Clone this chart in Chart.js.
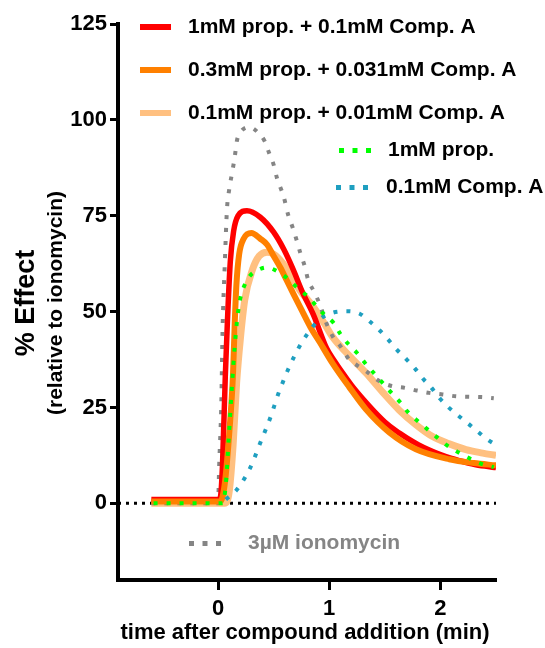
<!DOCTYPE html>
<html>
<head>
<meta charset="utf-8">
<script src="https://cdn.jsdelivr.net/npm/chart.js@4.4.0/dist/chart.umd.min.js"></script>
<style>
  body { margin: 0; background: #fff; }
  #wrap { width: 545px; height: 648px; }
</style>
</head>
<body>
<div id="wrap"><canvas id="c" width="545" height="648"></canvas></div>
<script>
// values (time in min, % effect)
const redT = [-0.6, -0.3, 0.0, 0.02, 0.04, 0.065, 0.085, 0.11, 0.14, 0.18, 0.26, 0.38, 0.5, 0.59, 0.675, 0.76, 0.86, 0.975, 1.05, 1.12, 1.2, 1.3, 1.4, 1.5, 1.6, 1.7, 1.8, 1.9, 2.0, 2.1, 2.2, 2.3, 2.4, 2.5];
const redV = [1, 1, 1, 1.5, 10, 33, 48, 63, 71, 75, 76.3, 74.6, 70.7, 66.3, 61, 55, 49, 40.5, 37, 34, 30.8, 27.3, 24.1, 21.2, 18.9, 17, 15.3, 13.9, 12.7, 11.7, 10.9, 10.2, 9.7, 9.3];

const orangeT = [-0.6, -0.3, 0.02, 0.06, 0.1, 0.135, 0.15, 0.165, 0.19, 0.23, 0.3, 0.38, 0.44, 0.5, 0.56, 0.62, 0.68, 0.75, 0.83, 0.915, 1.03, 1.18, 1.33, 1.54, 1.78, 2.08, 2.3, 2.5];
const orangeV = [0.5, 0.5, 0.5, 5, 18, 34, 47, 57, 65, 69, 70.5, 69, 67.5, 64.5, 61.5, 58, 54.5, 50.5, 46, 42, 36.5, 30.3, 24.5, 18.5, 14.1, 11.5, 10.5, 9.9];

const lightT = [-0.6, -0.3, 0.06, 0.1, 0.135, 0.167, 0.2, 0.24, 0.31, 0.37, 0.44, 0.5, 0.586, 0.735, 0.855, 0.95, 1.03, 1.18, 1.33, 1.48, 1.63, 1.78, 1.93, 2.08, 2.23, 2.38, 2.5];
const lightV = [0, 0, 0, 3, 15, 31.4, 42.7, 53, 61, 64.5, 65.5, 65, 62.5, 55.6, 51.3, 47.2, 43.4, 38.5, 34, 29, 24.3, 20.5, 17.4, 15.5, 14, 13.1, 12.5];

const greenT = [-0.58, -0.3, 0.04, 0.07, 0.1, 0.137, 0.165, 0.197, 0.24, 0.286, 0.35, 0.435, 0.54, 0.63, 0.72, 0.8, 0.95, 1.04, 1.1, 1.17, 1.25, 1.33, 1.4, 1.48, 1.56, 1.64, 1.71, 1.79, 1.88, 1.97, 2.06, 2.16, 2.27, 2.37, 2.48];
const greenV = [0, 0, 0, 5, 19, 35.8, 46, 53, 57, 59.3, 60.7, 61.5, 60.4, 58.5, 56, 54.1, 49.4, 47, 44.2, 41.6, 39.2, 36.3, 34, 31.4, 28.8, 26.3, 23.7, 21.6, 19.4, 17.2, 15.1, 13.3, 11.6, 10.3, 9.4];

const blueT = [0.07, 0.17, 0.29, 0.38, 0.47, 0.54, 0.58, 0.63, 0.73, 0.79, 0.91, 1.03, 1.15, 1.27, 1.36, 1.45, 1.53, 1.6, 1.69, 1.77, 1.84, 1.92, 1.99, 2.07, 2.16, 2.25, 2.34, 2.43, 2.5];
const blueV = [1, 3.6, 9.3, 15.8, 22.3, 28.4, 31.4, 34.9, 40.8, 43.6, 47.9, 49.7, 50.1, 49.5, 47.5, 45.2, 42.7, 40.3, 37.7, 35.2, 32.6, 30.1, 27.5, 25.1, 22.9, 20.8, 18.6, 16.5, 15.2];

const grayT = [-0.6, -0.3, 0.0, 0.01, 0.03, 0.04, 0.06, 0.08, 0.1, 0.13, 0.15, 0.17, 0.2, 0.28, 0.36, 0.42, 0.46, 0.5, 0.53, 0.59, 0.63, 0.67, 0.71, 0.74, 0.78, 0.81, 0.86, 0.92, 0.96, 1.03, 1.1, 1.18, 1.25, 1.33, 1.45, 1.56, 1.68, 1.79, 1.9, 2.02, 2.14, 2.25, 2.37, 2.48];
const grayV = [0, 0, 0, 9.7, 27, 44.6, 62, 76.6, 81.8, 86.8, 90.3, 94.6, 96.7, 98.1, 96.7, 94.4, 91.3, 88.3, 84.8, 80, 75.3, 72, 68.3, 65.3, 61.8, 58.3, 55.4, 51.5, 48, 43.6, 41, 37.5, 36, 34.5, 31.9, 30.6, 30.1, 29.4, 28.8, 28.4, 27.9, 27.8, 27.7, 27.4];

const xTicks = [0, 1, 2];
const yTicks = [0, 25, 50, 75, 100, 125];

const labels = [
  "1mM prop. + 0.1mM Comp. A",
  "0.3mM prop. + 0.031mM Comp. A",
  "0.1mM prop. + 0.01mM Comp. A",
  "1mM prop.",
  "0.1mM Comp. A",
  "3\u00b5M ionomycin"
];
const colors = ["#ff0000", "#ff8000", "#ffc080", "#00ff00", "#1f9fc0", "#858585"];

const FONT = "'Liberation Sans', Arial, sans-serif";
const pts = (t, v) => t.map((x, i) => ({ x: x, y: v[i] }));

function solid(i, t, v, w) {
  return { label: labels[i], data: pts(t, v), borderColor: colors[i], borderWidth: w,
    pointRadius: 0, cubicInterpolationMode: "monotone", fill: false };
}
function dotted(i, t, v) {
  return { label: labels[i], data: pts(t, v), borderColor: colors[i], borderWidth: 4,
    borderDash: [4, 9], borderCapStyle: "butt", pointRadius: 0,
    cubicInterpolationMode: "monotone", fill: false };
}

// first dataset is drawn on top
const datasets = [
  dotted(3, greenT, greenV),
  dotted(4, blueT, blueV),
  solid(1, orangeT, orangeV, 6),
  solid(0, redT, redV, 5.5),
  dotted(5, grayT, grayV),
  solid(2, lightT, lightV, 7),
  { label: "zero", data: [{ x: -0.9, y: 0 }, { x: 2.5, y: 0 }], borderColor: "#000",
    borderWidth: 3, borderDash: [3, 5], pointRadius: 0 }
];

const decor = {
  id: "decor",
  afterDraw(chart) {
    const ctx = chart.ctx;
    ctx.save();
    ctx.textBaseline = "middle";
    ctx.textAlign = "left";

    // legend: solid lines
    const rows = [27, 70, 113];
    for (let i = 0; i < 3; i++) {
      ctx.strokeStyle = colors[i];
      ctx.lineWidth = 6;
      ctx.setLineDash([]);
      ctx.beginPath();
      ctx.moveTo(140, rows[i]);
      ctx.lineTo(171, rows[i]);
      ctx.stroke();
      ctx.fillStyle = "#000";
      ctx.font = "bold 21px " + FONT;
      ctx.fillText(labels[i], 188, rows[i]);
    }
    // legend: dotted entries
    const dots = [
      { i: 3, x: 341, y: 150, tx: 388, col: "#000" },
      { i: 4, x: 338, y: 187, tx: 386, col: "#000" },
      { i: 5, x: 191, y: 543, tx: 248, col: colors[5] }
    ];
    dots.forEach(d => {
      ctx.fillStyle = colors[d.i];
      for (let k = 0; k < 3; k++) ctx.fillRect(d.x + k * 13.5 - 2, d.y - 2, 5, 5);
      ctx.fillStyle = d.col;
      ctx.font = "bold 21px " + FONT;
      ctx.fillText(labels[d.i], d.tx, d.y);
    });

    // axis titles
    ctx.fillStyle = "#000";
    ctx.textAlign = "center";
    ctx.font = "bold 22px " + FONT;
    ctx.fillText("time after compound addition (min)", 305, 633);

    ctx.translate(27, 303);
    ctx.rotate(-Math.PI / 2);
    ctx.font = "bold 27px " + FONT;
    ctx.fillText("% Effect", 0, 0);
    ctx.font = "bold 21px " + FONT;
    ctx.fillText("(relative to ionomycin)", 0, 29);
    ctx.restore();
  }
};

new Chart(document.getElementById("c"), {
  type: "line",
  data: { datasets: datasets },
  plugins: [decor],
  options: {
    responsive: false,
    animation: false,
    layout: { padding: { top: 24, right: 49, left: 0, bottom: 0 } },
    plugins: { legend: { display: false }, tooltip: { enabled: false } },
    scales: {
      x: {
        type: "linear", min: -0.9, max: 2.5,
        afterBuildTicks: s => { s.ticks = xTicks.map(v => ({ value: v })); },
        afterFit: s => { s.height = 68; },
        ticks: { color: "#000", padding: 6, font: { family: FONT, size: 22, weight: "bold" } },
        grid: { drawOnChartArea: false, tickLength: 10, tickWidth: 3, tickColor: "#000" },
        border: { width: 4, color: "#000" }
      },
      y: {
        type: "linear", min: -20, max: 125,
        afterBuildTicks: s => { s.ticks = yTicks.map(v => ({ value: v })); },
        afterFit: s => { s.width = 118; },
        ticks: { color: "#000", padding: 3, font: { family: FONT, size: 22, weight: "bold" } },
        grid: { drawOnChartArea: false, tickLength: 8, tickWidth: 3, tickColor: "#000" },
        border: { width: 4, color: "#000" }
      }
    }
  }
});
</script>
</body>
</html>
